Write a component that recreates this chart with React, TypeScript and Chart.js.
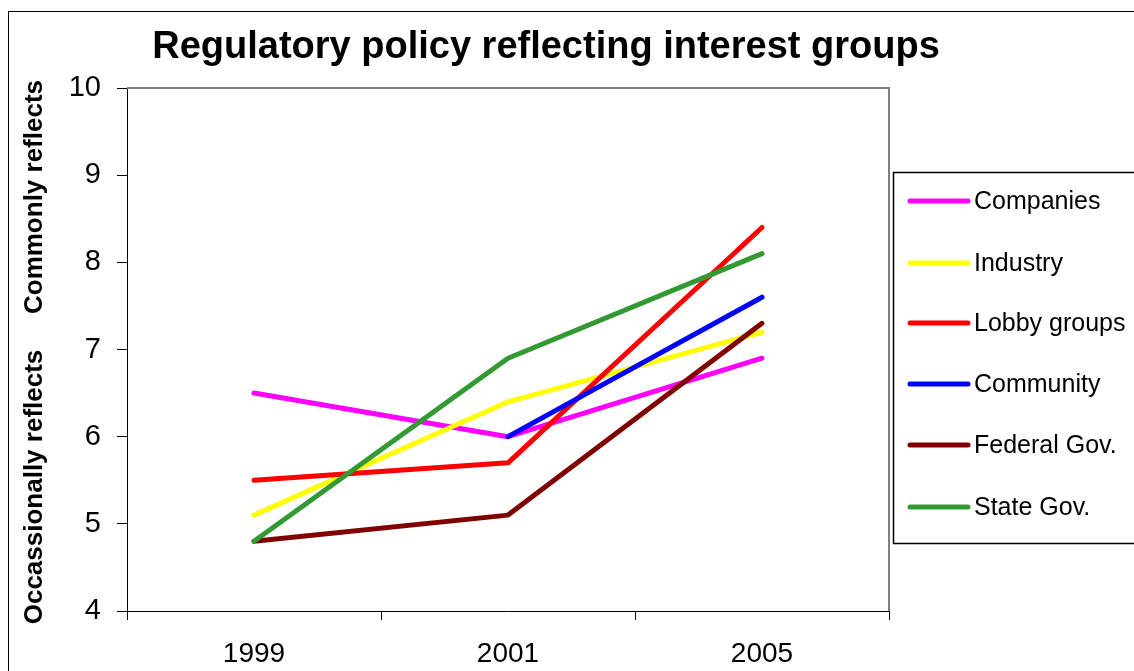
import React, { useEffect, useRef } from "react";
import { Chart, registerables } from "chart.js";

Chart.register(...registerables);

const title = "Regulatory policy reflecting interest groups";
const years = ["1999", "2001", "2005"];
const yTitleLow = "Occassionally reflects";
const yTitleHigh = "Commonly reflects";

const seriesNames = ["Companies", "Industry", "Lobby groups", "Community", "Federal Gov.", "State Gov."];
const companies = [6.5, 6.0, 6.9];
const industry = [5.1, 6.4, 7.2];
const lobbyGroups = [5.5, 5.7, 8.4];
const community = [null, 6.0, 7.6];
const federalGov = [4.8, 5.1, 7.3];
const stateGov = [4.8, 6.9, 8.1];
const seriesColors = ["#FF00FF", "#FFFF00", "#FF0000", "#0000FF", "#800000", "#339933"];

const FONT = "'Liberation Sans', Arial, sans-serif";

const decorPlugin = {
  id: "decor",
  beforeDraw(chart: any) {
    const ctx = chart.ctx;
    ctx.save();
    ctx.fillStyle = "#fff";
    ctx.fillRect(0, 0, chart.width, chart.height);
    ctx.strokeStyle = "#000";
    ctx.lineWidth = 1;
    ctx.strokeRect(8.5, 11.5, 1300, 800);
    ctx.restore();
  },
  beforeDatasetsDraw(chart: any) {
    const ctx = chart.ctx;
    const a = chart.chartArea;
    ctx.save();
    ctx.strokeStyle = "#808080";
    ctx.lineWidth = 2;
    ctx.beginPath();
    ctx.moveTo(a.left, a.top);
    ctx.lineTo(a.right, a.top);
    ctx.lineTo(a.right, a.bottom);
    ctx.stroke();
    ctx.restore();
  },
  afterDraw(chart: any) {
    const ctx = chart.ctx;
    ctx.save();
    // title
    ctx.fillStyle = "#000";
    ctx.font = `bold 38px ${FONT}`;
    ctx.textAlign = "center";
    ctx.textBaseline = "alphabetic";
    ctx.fillText(title, 546, 58);
    // y titles
    ctx.font = `bold 26px ${FONT}`;
    ctx.textBaseline = "middle";
    ctx.save();
    ctx.translate(35, 487);
    ctx.rotate(-Math.PI / 2);
    ctx.fillText(yTitleLow, 0, 0);
    ctx.restore();
    ctx.save();
    ctx.translate(35, 197);
    ctx.rotate(-Math.PI / 2);
    ctx.fillText(yTitleHigh, 0, 0);
    ctx.restore();
    // legend
    ctx.strokeStyle = "#000";
    ctx.lineWidth = 1.5;
    ctx.strokeRect(893.5, 172.5, 400, 371);
    ctx.font = `25px ${FONT}`;
    ctx.textAlign = "left";
    ctx.textBaseline = "middle";
    const ys = [201, 263, 323, 384, 445, 507];
    seriesNames.forEach((n, i) => {
      ctx.strokeStyle = seriesColors[i];
      ctx.lineWidth = 5;
      ctx.lineCap = "round";
      ctx.beginPath();
      ctx.moveTo(910, ys[i]);
      ctx.lineTo(968, ys[i]);
      ctx.stroke();
      ctx.fillStyle = "#000";
      ctx.fillText(n, 974, ys[i] + 1);
    });
    ctx.restore();
  },
};

export default function App() {
  const ref = useRef<HTMLCanvasElement>(null);
  useEffect(() => {
    const allData = [companies, industry, lobbyGroups, community, federalGov, stateGov];
    const chart = new Chart(ref.current as HTMLCanvasElement, {
      type: "line",
      data: {
        labels: years,
        datasets: seriesNames.map((n, i) => ({
          label: n,
          data: allData[i] as any,
          borderColor: seriesColors[i],
          backgroundColor: seriesColors[i],
          borderWidth: 5,
          borderCapStyle: "round",
          borderJoinStyle: "round",
          pointRadius: 0,
          tension: 0,
          spanGaps: false,
          order: seriesNames.length - i,
        })),
      },
      options: {
        responsive: false,
        animation: false,
        layout: { padding: { top: 88, right: 245, left: 0, bottom: 0 } },
        plugins: { legend: { display: false }, title: { display: false }, tooltip: { enabled: false } },
        scales: {
          x: {
            type: "category",
            offset: true,
            grid: { offset: true, drawOnChartArea: false, drawTicks: true, tickLength: 9, color: "#000" },
            border: { color: "#000", width: 1 },
            ticks: { font: { family: FONT, size: 28 }, color: "#000", padding: 17, maxRotation: 0 },
            afterFit: (s: any) => {
              s.height = 60;
            },
          },
          y: {
            min: 4,
            max: 10,
            ticks: { stepSize: 1, font: { family: FONT, size: 29 }, color: "#000", padding: 16 },
            grid: { drawOnChartArea: false, drawTicks: true, tickLength: 10, color: "#000" },
            border: { color: "#000", width: 1 },
            afterFit: (s: any) => {
              s.width = 127;
            },
          },
        },
      },
      plugins: [decorPlugin],
    });
    return () => chart.destroy();
  }, []);
  return (
    <div style={{ position: "fixed", left: 0, top: 0, width: 1134, height: 671 }}>
      <canvas ref={ref} width={1134} height={671} style={{ display: "block" }} />
    </div>
  );
}
